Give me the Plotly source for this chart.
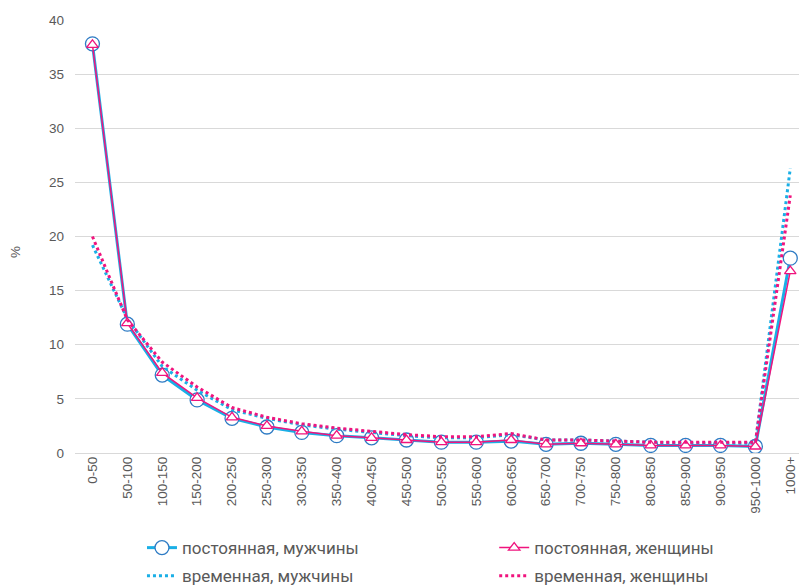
import plotly.graph_objects as go

# Income brackets
categories = ["0-50", "50-100", "100-150", "150-200", "200-250", "250-300", "300-350",
              "350-400", "400-450", "450-500", "500-550", "550-600", "600-650", "650-700",
              "700-750", "750-800", "800-850", "850-900", "900-950", "950-1000", "1000+"]

perm_men = [37.8, 11.9, 7.2, 4.9, 3.2, 2.4, 1.9, 1.6, 1.4, 1.2, 1.0, 1.0, 1.1, 0.8,
            0.9, 0.8, 0.7, 0.7, 0.7, 0.6, 18.0]
perm_women = [37.7, 12.0, 7.4, 5.1, 3.3, 2.5, 2.0, 1.6, 1.4, 1.2, 1.0, 1.0, 1.2, 0.8,
              0.9, 0.8, 0.7, 0.7, 0.7, 0.6, 16.8]
temp_men = [19.2, 12.4, 8.0, 5.8, 4.0, 3.2, 2.6, 2.2, 1.9, 1.6, 1.4, 1.4, 1.7, 1.2,
            1.2, 1.1, 1.0, 0.9, 0.9, 0.9, 26.3]
temp_women = [20.0, 12.3, 8.4, 6.1, 4.2, 3.3, 2.7, 2.3, 2.0, 1.7, 1.5, 1.5, 1.8, 1.2,
              1.2, 1.1, 1.0, 1.0, 1.0, 1.0, 23.8]

CYAN = "#1AAFE6"
BLUE = "#2E7BC4"
PINK = "#F0147E"
GREY = "#595959"
AXIS_FONT = "Liberation Sans, Arial, sans-serif"
LEGEND_FONT = "Roboto, sans-serif"

fig = go.Figure()

fig.add_trace(go.Scatter(
    x=categories, y=perm_men, name="постоянная, мужчины", mode="lines+markers",
    line=dict(color=CYAN, width=3),
    marker=dict(symbol="circle", size=14, color="white", line=dict(color=BLUE, width=1.3)),
    legend="legend", legendgroup="a",
))
fig.add_trace(go.Scatter(
    x=categories, y=temp_men, name="временная, мужчины", mode="lines",
    line=dict(color=CYAN, width=3, dash="dot"),
    legend="legend", legendgroup="b",
))
fig.add_trace(go.Scatter(
    x=categories, y=perm_women, name="постоянная, женщины", mode="lines+markers",
    line=dict(color=PINK, width=1.5),
    marker=dict(symbol="triangle-up", size=10, color="white", line=dict(color=PINK, width=1.3)),
    legend="legend2", legendgroup="c",
))
fig.add_trace(go.Scatter(
    x=categories, y=temp_women, name="временная, женщины", mode="lines",
    line=dict(color=PINK, width=3, dash="dot"),
    legend="legend2", legendgroup="d",
))

legend_common = dict(
    orientation="v", yanchor="top", y=-0.178, xanchor="left",
    font=dict(family=LEGEND_FONT, size=17, color=GREY),
    tracegroupgap=3, bgcolor="rgba(0,0,0,0)",
)

fig.update_layout(
    width=799, height=587,
    margin=dict(l=75, r=0, t=20, b=134, autoexpand=False),
    paper_bgcolor="white", plot_bgcolor="white",
    font=dict(family=AXIS_FONT, color=GREY),
    legend=dict(x=0.0925, **legend_common),
    legend2=dict(x=0.579, **legend_common),
    xaxis=dict(
        type="category", range=[-0.5, 20.25], automargin=False,
        tickangle=-90, tickfont=dict(family=AXIS_FONT, size=13.5, color=GREY),
        showgrid=False, showline=False, zeroline=False, ticks="",
    ),
    yaxis=dict(
        range=[0, 40], dtick=5, automargin=False,
        tickfont=dict(family=AXIS_FONT, size=13.5, color=GREY),
        gridcolor="#D9D9D9", gridwidth=1,
        zeroline=True, zerolinecolor="#D9D9D9", zerolinewidth=1,
        showline=False, ticks="", ticklabelstandoff=10,
    ),
    annotations=[dict(
        text="%", textangle=-90, showarrow=False,
        xref="paper", yref="paper", x=-0.083, y=0.464,
        xanchor="center", yanchor="middle",
        font=dict(family=AXIS_FONT, size=13.5, color=GREY),
    )],
)

fig.write_html("out.html")
